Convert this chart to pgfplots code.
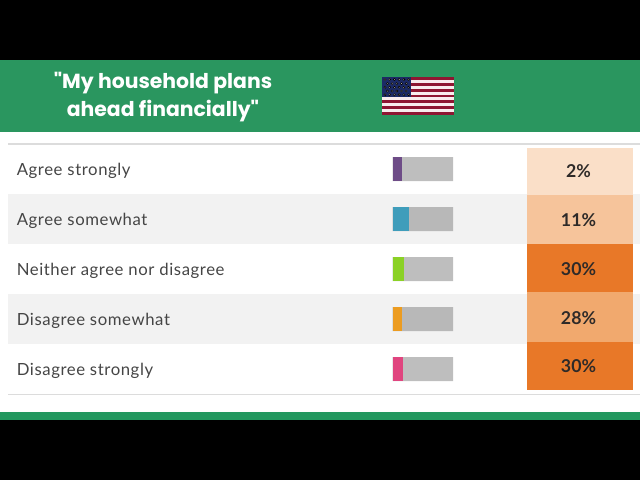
\documentclass[border=0pt]{standalone}
\usepackage{fontspec}
\setmainfont{Lato}
\newfontfamily\titlefont{Poppins}
\usepackage{pgfplots}
\pgfplotsset{compat=1.18}

\definecolor{hdrgreen}{HTML}{2A965F}
\definecolor{footgreen}{HTML}{23985F}
\definecolor{stripe}{HTML}{F2F2F2}
\definecolor{rulegray}{HTML}{DCDCDC}
\definecolor{flagred}{HTML}{8E1632}
\definecolor{flagwhite}{HTML}{F8ECEE}
\definecolor{flagblue}{HTML}{1C2A66}
\definecolor{lab}{HTML}{454545}
\definecolor{pct}{HTML}{2E2A28}
\definecolor{heatA}{HTML}{FADFC8}
\definecolor{heatB}{HTML}{F6C49B}
\definecolor{heatC}{HTML}{E87828}
\definecolor{heatD}{HTML}{F1A96E}
\definecolor{barbg}{HTML}{BEBEBE}
\definecolor{barbgs}{HTML}{B8B8B8}
\definecolor{cpurple}{HTML}{6E4C87}
\definecolor{cteal}{HTML}{3F9DBB}
\definecolor{cgreen}{HTML}{8BD126}
\definecolor{corange}{HTML}{EC9C21}
\definecolor{cpink}{HTML}{E0457F}

% rectangle in reference pixels: x0, y0, x1, y1, colour
\newcommand{\px}[5]{\addplot[fill=#5,draw=none,forget plot] coordinates {(#1,#2) (#3,#2) (#3,#4) (#1,#4)} --cycle;}
\newcommand{\rowlab}[2]{\node[anchor=west,inner sep=0pt,text=lab,font=\fontsize{11.9}{14}\selectfont\addfontfeature{LetterSpace=3.5}] at (axis cs:16.5,#1) {#2};}
\newcommand{\rowpct}[2]{\node[text=pct,font=\fontsize{12.6}{15}\selectfont\bfseries] at (axis cs:578.5,#1) {#2};}

\begin{document}
\begin{tikzpicture}
\begin{axis}[name=main,at={(0,0)},anchor=south west,scale only axis,width=16cm,height=12cm,
  xmin=0,xmax=640,ymin=0,ymax=480,y dir=reverse,hide axis,clip=true]
  % page bands
  \px{0}{0}{640}{60}{black}
  \px{0}{420}{640}{480}{black}
  \px{0}{60}{640}{131.5}{hdrgreen}
  \px{0}{412}{640}{420}{footgreen}
  % table stripes and rules
  \px{8}{194}{640}{244}{stripe}
  \px{8}{294}{640}{344}{stripe}
  \px{8}{143}{640}{144.5}{rulegray}
  \px{8}{394}{640}{395}{rulegray}
  % heat cells
  \px{527}{148}{632.5}{194.5}{heatA}
  \px{527}{194.5}{632.5}{244}{heatB}
  \px{527}{244}{632.5}{292}{heatC}
  \px{527}{292}{632.5}{342}{heatD}
  \px{527}{342}{632.5}{389.5}{heatC}
  % flag
  \px{382}{77}{454}{115}{flagwhite}
  \px{382}{77}{454}{79.9}{flagred}
  \px{382}{82.8}{454}{85.8}{flagred}
  \px{382}{88.7}{454}{91.6}{flagred}
  \px{382}{94.5}{454}{97.4}{flagred}
  \px{382}{100.4}{454}{103.3}{flagred}
  \px{382}{106.2}{454}{109.2}{flagred}
  \px{382}{112.1}{454}{115}{flagred}
  \px{382}{77}{411}{97.4}{flagblue}
  \addplot[only marks,mark=*,mark size=0.75pt,mark options={draw=none,fill=white},forget plot] coordinates {
    (385,79.5) (389.7,79.5) (394.4,79.5) (399.1,79.5) (403.8,79.5) (408.5,79.5)
    (387.4,83.6) (392.1,83.6) (396.8,83.6) (401.5,83.6) (406.2,83.6)
    (385,87.3) (389.7,87.3) (394.4,87.3) (399.1,87.3) (403.8,87.3) (408.5,87.3)
    (387.4,91) (392.1,91) (396.8,91) (401.5,91) (406.2,91)
    (385,94.8) (389.7,94.8) (394.4,94.8) (399.1,94.8) (403.8,94.8) (408.5,94.8)
  };
  % text
  \node[text=white,align=center,font=\titlefont\bfseries\fontsize{14.5}{20}\selectfont] at (axis cs:163,97) {"My household plans\\ahead financially"};
  \rowlab{171}{Agree strongly}
  \rowlab{221}{Agree somewhat}
  \rowlab{271}{Neither agree nor disagree}
  \rowlab{321}{Disagree somewhat}
  \rowlab{371}{Disagree strongly}
  \rowpct{171.5}{2\%}
  \rowpct{220.5}{11\%}
  \rowpct{269.5}{30\%}
  \rowpct{318}{28\%}
  \rowpct{366.5}{30\%}
\end{axis}
\begin{axis}[at={(9.8175cm,2.15cm)},anchor=south west,scale only axis,width=1.5075cm,height=6.25cm,
  xmin=0,xmax=100,ymin=0.5,ymax=5.5,y dir=reverse,hide axis,
  xbar,bar width=0.6cm,bar shift=0pt]
  \addplot[fill=barbg,draw=none] coordinates {(100,1) (100,3) (100,5)};
  \addplot[fill=barbgs,draw=none] coordinates {(100,2) (100,4)};
  \addplot[fill=cpurple,draw=none] coordinates {(15,1)};
  \addplot[fill=cteal,draw=none] coordinates {(27.5,2)};
  \addplot[fill=cgreen,draw=none] coordinates {(19,3)};
  \addplot[fill=corange,draw=none] coordinates {(15,4)};
  \addplot[fill=cpink,draw=none] coordinates {(17,5)};
\end{axis}
\end{tikzpicture}
\end{document}
